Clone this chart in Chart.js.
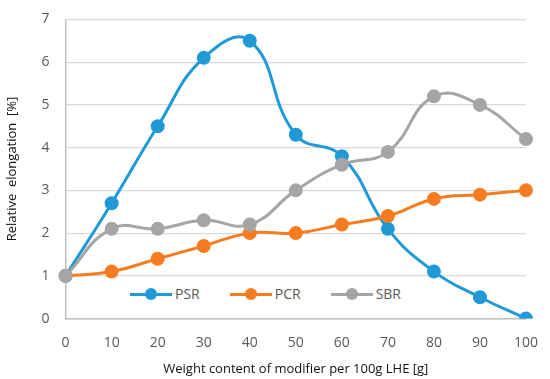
<!DOCTYPE html>
<html>
<head>
<meta charset="utf-8">
<script src="https://cdn.jsdelivr.net/npm/chart.js@4"></script>
<style>
  html, body { margin: 0; padding: 0; background: #fff; overflow: hidden; }
  #wrap { position: relative; width: 550px; height: 379px; overflow: hidden; }
  #chart { position: absolute; left: 0; top: -5px; }
  #legend { position: absolute; left: 124px; top: 282px; display: flex; gap: 30px;
            font-family: "Open Sans", sans-serif; font-size: 14px; color: #595959; background: #fff; padding: 2px 6px; }
  #legend span.item { display: flex; align-items: center; }
  #legend span.sw { position: relative; width: 42px; height: 12px; margin-right: 3px; }
  #legend span.sw i { position: absolute; left: 0; right: 0; top: 5px; height: 3px; }
  #legend span.sw b { position: absolute; left: 15px; top: 0; width: 12px; height: 12px; border-radius: 50%; }
</style>
</head>
<body>
<div id="wrap">
  <canvas id="chart" width="550" height="386"></canvas>
  <div id="legend"></div>
</div>
<script>
const categories = ["0", "10", "20", "30", "40", "50", "60", "70", "80", "90", "100"];
const series_names = ["PSR", "PCR", "SBR"];
const psr = [1, 2.7, 4.5, 6.1, 6.5, 4.3, 3.8, 2.1, 1.1, 0.5, 0];
const pcr = [1, 1.1, 1.4, 1.7, 2.0, 2.0, 2.2, 2.4, 2.8, 2.9, 3.0];
const sbr = [1, 2.1, 2.1, 2.3, 2.2, 3.0, 3.6, 3.9, 5.2, 5.0, 4.2];
const colors = ["#1f9ad6", "#f57c20", "#a5a5a5"];

line_chart();
function line_chart() {
    const $chart = document.getElementById("chart");
    if (!$chart) {
        return;
    }
    const ctx = $chart.getContext("2d");
    const values = [psr, pcr, sbr];

    const datasets = series_names.map((name, i) => ({
        label: name,
        data: values[i],
        borderColor: colors[i],
        backgroundColor: colors[i],
        borderWidth: 3,
        pointRadius: 5.5,
        pointHoverRadius: 5.5,
        tension: 0.45,
        fill: false,
    }));
    // SBR drawn on top, PSR below as in the picture
    datasets[0].order = 2;
    datasets[1].order = 1;
    datasets[2].order = 0;

    new Chart(ctx, {
        type: "line",
        data: { labels: categories, datasets: datasets },
        options: {
            responsive: false,
            animation: false,
            layout: { padding: { top: 1, right: 24, left: 0, bottom: 0 } },
            plugins: {
                legend: { display: false },
                tooltip: { enabled: false },
            },
            scales: {
                x: {
                    grid: { display: false, drawOnChartArea: false, tickLength: 6, color: "#bfbfbf" },
                    border: { color: "#bfbfbf", width: 1.5 },
                    ticks: { color: "#595959", font: { family: "Open Sans", size: 14 }, padding: 10, maxRotation: 0 },
                    title: { display: true, text: "Weight content of modifier per 100g LHE [g]", color: "#111",
                             font: { family: "Open Sans", size: 13 }, padding: { top: 0 } },
                    offset: false,
                },
                y: {
                    min: 0, max: 7,
                    grid: { color: "#d9d9d9", lineWidth: 1.2, drawTicks: false },
                    border: { color: "#bfbfbf", width: 1.5 },
                    ticks: { stepSize: 1, color: "#595959", font: { family: "Open Sans", size: 14 }, padding: 16 },
                    title: { display: true, text: "Relative  elongation  [%]", color: "#111",
                             font: { family: "Open Sans", size: 13 }, padding: { bottom: 6 } },
                },
            },
        },
    });

    const $legend = document.getElementById("legend");
    series_names.forEach((name, i) => {
        const item = document.createElement("span");
        item.className = "item";
        item.innerHTML = '<span class="sw"><i style="background:' + colors[i] + '"></i><b style="background:' + colors[i] + '"></b></span>' + name;
        $legend.appendChild(item);
    });
}
</script>
</body>
</html>
